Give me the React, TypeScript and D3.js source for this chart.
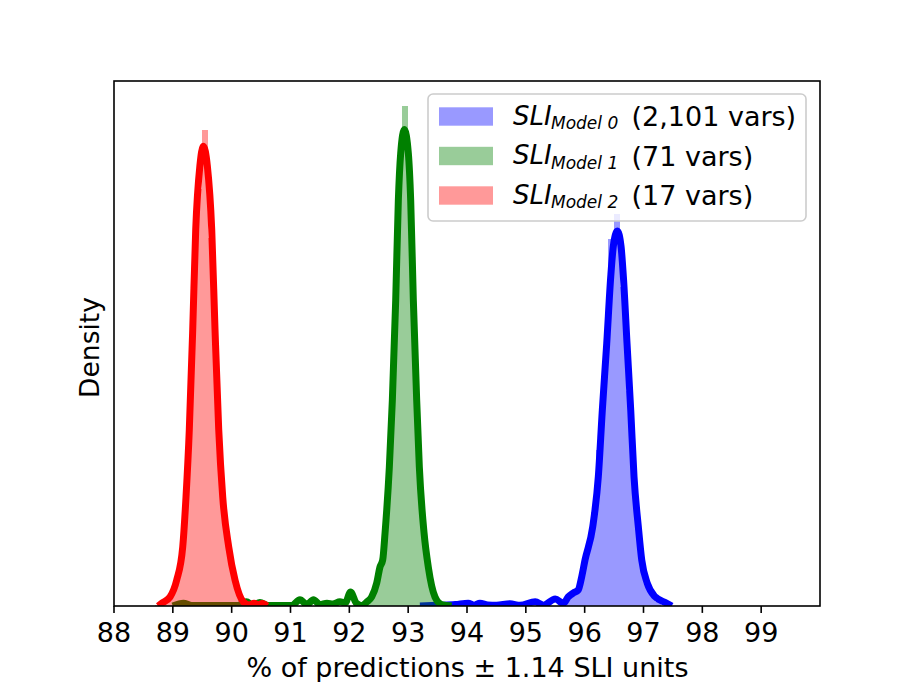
import React, { useRef, useEffect } from 'react'
import * as d3 from 'd3'

// KDE curves: [percent, density]
const model0Kde: [number, number][] = [
  [93.2, 0], [93.5, 0.005], [93.8, 0.01], [94.02, 0.02], [94.12, 0.006], [94.22, 0.02],
  [94.35, 0.008], [94.5, 0.005], [94.73, 0.016], [94.9, 0.005], [95.16, 0.03], [95.3, 0.006],
  [95.5, 0.05], [95.64, 0.018], [95.72, 0.065], [95.81, 0.094], [95.89, 0.115], [95.95, 0.211],
  [96.006, 0.331], [96.137, 0.571], [96.232, 0.93], [96.3, 1.41], [96.375, 1.89], [96.443, 2.37],
  [96.487, 2.59], [96.556, 2.70], [96.618, 2.59], [96.658, 2.37], [96.72, 1.89], [96.783, 1.41],
  [96.839, 0.93], [96.912, 0.571], [96.97, 0.331], [97.065, 0.163], [97.196, 0.067],
  [97.395, 0.02], [97.48, 0],
]

const model1Kde: [number, number][] = [
  [89.0, 0], [89.18, 0.02], [89.32, 0.004], [90.1, 0.003], [90.25, 0.03], [90.36, 0.006],
  [90.48, 0.025], [90.62, 0.003], [91.02, 0.003], [91.16, 0.045], [91.28, 0.01], [91.39, 0.045],
  [91.5, 0.01], [91.62, 0.02], [91.72, 0.014], [91.84, 0.03], [91.93, 0.022], [92.02, 0.1],
  [92.12, 0.02], [92.22, 0.002], [92.295, 0.029], [92.38, 0.065], [92.466, 0.166], [92.521, 0.281],
  [92.567, 0.331], [92.607, 0.526], [92.68, 1.0], [92.731, 1.48], [92.788, 2.2], [92.833, 2.92],
  [92.873, 3.26], [92.935, 3.43], [93.003, 3.26], [93.043, 2.92], [93.088, 2.2], [93.145, 1.48],
  [93.19, 1.0], [93.27, 0.526], [93.342, 0.281], [93.456, 0.065], [93.57, 0.01], [93.74, 0],
]

const model2Kde: [number, number][] = [
  [88.75, 0], [88.811, 0.02], [88.952, 0.065], [89.066, 0.187], [89.168, 0.425], [89.224, 0.785],
  [89.28, 1.27], [89.338, 1.99], [89.389, 2.71], [89.46, 3.17], [89.518, 3.31], [89.586, 3.17],
  [89.661, 2.71], [89.717, 1.99], [89.78, 1.27], [89.848, 0.785], [89.95, 0.425], [90.057, 0.187],
  [90.198, 0.03], [90.3, 0.008], [90.38, 0.02], [90.45, 0.008], [90.52, 0.018], [90.6, 0],
]

// histogram bins: left edge of the first bin, then densities of 0.1-wide bins
const binWidth = 0.1
const model0BinStart = 95.7
const model0Bins = [0.06, 0.10, 0.22, 0.42, 0.68, 1.12, 1.70, 2.64, 2.82, 2.30, 1.55, 0.85, 0.40, 0.18, 0.08, 0.03]
const model1BinStart = 92.2
const model1Bins = [0.01, 0.05, 0.14, 0.32, 0.80, 1.70, 2.95, 3.60, 2.70, 1.40, 0.60, 0.26, 0.07, 0.02]
const model2BinStart = 88.7
const model2Bins = [0.01, 0.04, 0.07, 0.17, 0.38, 1.01, 2.16, 3.0, 3.43, 2.65, 1.62, 0.78, 0.42, 0.19, 0.07, 0.02]

const xTicks = [88, 89, 90, 91, 92, 93, 94, 95, 96, 97, 98, 99]
const legendSubs = ['Model 0', 'Model 1', 'Model 2']
const legendCounts = ['(2,101 vars)', '(71 vars)', '(17 vars)']

export default function App() {
  const svgRef = useRef<SVGSVGElement>(null)

  useEffect(() => {
    if (!svgRef.current) return
    const svg = d3.select(svgRef.current)
    svg.selectAll('*').remove()

    const left = 114, right = 820, top = 81, bottom = 606
    const font = 'DejaVu Sans, sans-serif'

    const x = d3.scaleLinear().domain([88, 100]).range([left, right])
    const y = d3.scaleLinear().domain([0, 3.78]).range([bottom, top])

    svg.append('defs').append('clipPath').attr('id', 'plot-clip')
      .append('rect')
      .attr('x', left).attr('y', top)
      .attr('width', right - left).attr('height', bottom - top)

    const plot = svg.append('g').attr('clip-path', 'url(#plot-clip)')

    const line = d3.line<[number, number]>()
      .x(d => x(d[0]))
      .y(d => y(d[1]))
      .curve(d3.curveMonotoneX)

    const series = [
      { kde: model0Kde, start: model0BinStart, bins: model0Bins, color: 'rgb(0,0,255)', fill: 'rgba(0,0,255,0.4)' },
      { kde: model1Kde, start: model1BinStart, bins: model1Bins, color: 'rgb(0,128,0)', fill: 'rgba(0,128,0,0.4)' },
      { kde: model2Kde, start: model2BinStart, bins: model2Bins, color: 'rgb(255,0,0)', fill: 'rgba(255,0,0,0.4)' },
    ]

    series.forEach(s => {
      plot.append('g')
        .selectAll('rect')
        .data(s.bins)
        .join('rect')
        .attr('x', (_, i) => x(s.start + i * binWidth))
        .attr('width', x(s.start + binWidth) - x(s.start))
        .attr('y', d => y(d))
        .attr('height', d => y(0) - y(d))
        .attr('fill', s.fill)
        .attr('shape-rendering', 'crispEdges')

      plot.append('path')
        .datum(s.kde)
        .attr('d', line)
        .attr('fill', 'none')
        .attr('stroke', s.color)
        .attr('stroke-width', 7)
        .attr('stroke-linejoin', 'round')
    })

    // Frame
    svg.append('rect')
      .attr('x', left).attr('y', top)
      .attr('width', right - left).attr('height', bottom - top)
      .attr('fill', 'none').attr('stroke', '#000').attr('stroke-width', 1.6)

    // X ticks
    const tickG = svg.append('g')
    tickG.selectAll('line')
      .data(xTicks)
      .join('line')
      .attr('x1', d => x(d)).attr('x2', d => x(d))
      .attr('y1', bottom).attr('y2', bottom + 6.9)
      .attr('stroke', '#000').attr('stroke-width', 1.6)
    tickG.selectAll('text')
      .data(xTicks)
      .join('text')
      .attr('x', d => x(d))
      .attr('y', 641.5)
      .attr('text-anchor', 'middle')
      .attr('font-family', font)
      .attr('font-size', 27)
      .attr('fill', '#000')
      .text(d => d)

    svg.append('text')
      .attr('x', (left + right) / 2 + 0.5)
      .attr('y', 677)
      .attr('text-anchor', 'middle')
      .attr('font-family', font)
      .attr('font-size', 27)
      .attr('fill', '#000')
      .text('% of predictions ± 1.14 SLI units')

    svg.append('text')
      .attr('transform', `translate(99,${(top + bottom) / 2 + 4}) rotate(-90)`)
      .attr('text-anchor', 'middle')
      .attr('font-family', font)
      .attr('font-size', 26.5)
      .attr('fill', '#000')
      .text('Density')

    // Legend
    const legend = svg.append('g')
    legend.append('rect')
      .attr('x', 428).attr('y', 94)
      .attr('width', 378).attr('height', 127)
      .attr('rx', 5)
      .attr('fill', 'rgba(255,255,255,0.8)')
      .attr('stroke', '#cccccc').attr('stroke-width', 1.6)

    series.forEach((s, i) => {
      const cy = 116.5 + i * 39.5
      legend.append('rect')
        .attr('x', 439).attr('y', cy - 9.2)
        .attr('width', 54).attr('height', 18.4)
        .attr('fill', s.fill)
      legend.append('text')
        .attr('x', 513).attr('y', cy + 8)
        .attr('font-family', font).attr('font-style', 'italic')
        .attr('font-size', 26).attr('fill', '#000')
        .text('SLI')
      legend.append('text')
        .attr('x', 551).attr('y', cy + 12.5)
        .attr('font-family', font).attr('font-style', 'italic')
        .attr('font-size', 17).attr('fill', '#000')
        .text(legendSubs[i])
      legend.append('text')
        .attr('x', 631.5).attr('y', cy + 9.5)
        .attr('font-family', font)
        .attr('font-size', 27).attr('fill', '#000')
        .text(legendCounts[i])
    })
  }, [])

  return (
    <svg
      ref={svgRef}
      width={911}
      height={682}
      style={{ position: 'absolute', left: 0, top: 0, background: '#fff' }}
    />
  )
}
